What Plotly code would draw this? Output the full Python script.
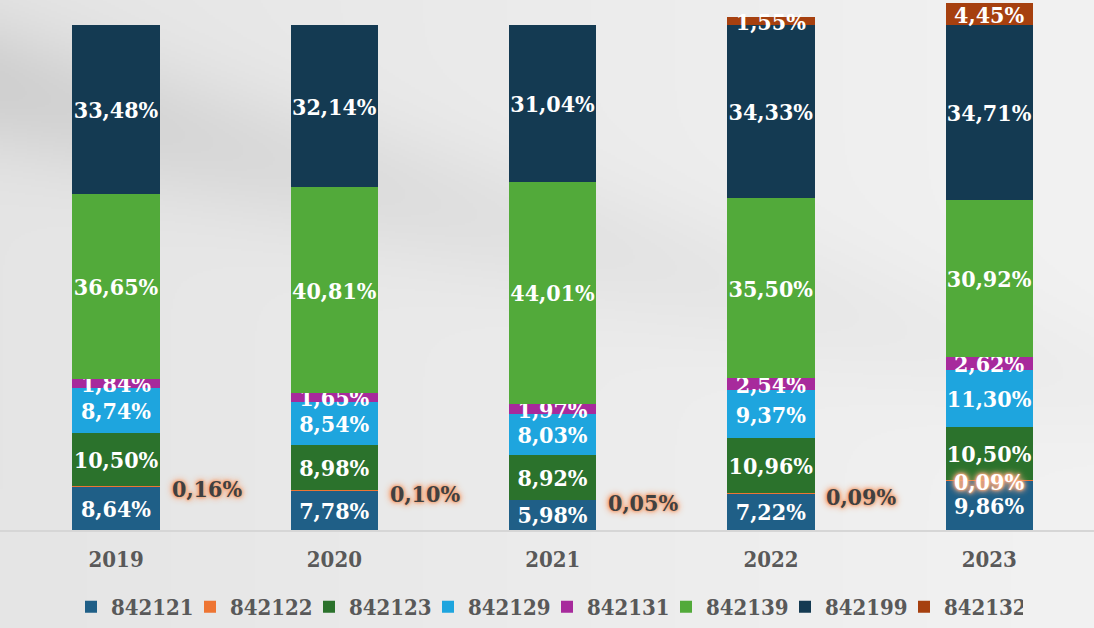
import zlib, struct, base64
import numpy as np
import plotly.graph_objects as go

# ---------------- data ----------------
years = ["2019", "2020", "2021", "2022", "2023"]
s842121 = [8.64, 7.78, 5.98, 7.22, 9.86]
s842122 = [0.16, 0.10, 0.05, 0.09, 0.09]
s842123 = [10.50, 8.98, 8.92, 10.96, 10.50]
s842129 = [8.74, 8.54, 8.03, 9.37, 11.30]
s842131 = [1.84, 1.65, 1.97, 2.54, 2.62]
s842139 = [36.65, 40.81, 44.01, 35.50, 30.92]
s842199 = [33.48, 32.14, 31.04, 34.33, 34.71]
s842132 = [0.0, 0.0, 0.0, 1.55, 4.45]

series_names = ["842121", "842122", "842123", "842129", "842131", "842139", "842199", "842132"]
series_values = [s842121, s842122, s842123, s842129, s842131, s842139, s842199, s842132]
series_colors = ["#1f5f87", "#ee7533", "#2b722c", "#1ea5de", "#a72a9c", "#52aa3a", "#143a52", "#a6400f"]

FONT = "DejaVu Serif Condensed, DejaVu Serif, serif"
GLOW = ("0px 0px 2px #f4a77c, 0px 0px 3px #f4a77c, 0px 0px 4px #f4a77c, "
        "0px 0px 6px #f4a77c, 0px 0px 8px #f7b896")


def fmt(v):
    return f"{v:.2f}".replace(".", ",") + "%"


# ---------------- background image ----------------
def png_data_uri(arr):
    h, w, _ = arr.shape
    raw = b"".join(b"\x00" + arr[r].tobytes() for r in range(h))

    def chunk(t, d):
        c = struct.pack(">I", len(d)) + t + d
        return c + struct.pack(">I", zlib.crc32(t + d) & 0xFFFFFFFF)

    png = (b"\x89PNG\r\n\x1a\n"
           + chunk(b"IHDR", struct.pack(">IIBBBBB", w, h, 8, 2, 0, 0, 0))
           + chunk(b"IDAT", zlib.compress(raw, 9))
           + chunk(b"IEND", b""))
    return "data:image/png;base64," + base64.b64encode(png).decode()


W, H = 547, 314
xx, yy = np.meshgrid(np.arange(W) * 2.0, np.arange(H) * 2.0)
base = 229 + 13 * (xx / 1094.0)
yc = 85 + 0.27 * xx
band = 21 * np.exp(-xx / 700.0) * np.exp(-((yy - yc) ** 2) / (2 * 48 ** 2))
val = np.clip(base - band, 0, 255).astype(np.uint8)
bg = np.stack([val, val, val], axis=-1)
bg_uri = png_data_uri(bg)

# ---------------- figure ----------------
fig = go.Figure()
for name, vals, col in zip(series_names, series_values, series_colors):
    if name == "842122":
        texts = [""] * len(vals)
    else:
        texts = [fmt(v) if v > 0 else "" for v in vals]
    fig.add_trace(go.Bar(
        x=years, y=vals, name=name,
        marker=dict(color=col, line=dict(width=0)),
        width=0.4,
        text=texts,
        textposition="inside",
        insidetextanchor="middle",
        constraintext="none",
        textangle=0,
        textfont=dict(family=FONT, size=23, color="white", weight="bold"),
        hoverinfo="skip",
    ))

# labels for the tiny 842122 series
annotations = []
for i, y in enumerate(years):
    mid = s842121[i] + s842122[i] / 2
    inside = i == len(years) - 1
    annotations.append(dict(
        x=i if inside else i + 0.245, y=mid, xref="x", yref="y",
        text=fmt(s842122[i]), showarrow=False,
        xanchor="center" if inside else "left", yanchor="middle",
        yshift=-1 if inside else -3,
        font=dict(family=FONT, size=23, weight="bold",
                  color="white" if inside else "#404040",
                  shadow=GLOW),
    ))

fig.update_layout(
    width=1094, height=628,
    barmode="stack",
    margin=dict(l=0, r=0, t=0, b=98, autoexpand=False),
    paper_bgcolor="#e9e9e9",
    plot_bgcolor="rgba(0,0,0,0)",
    images=[dict(source=bg_uri, xref="paper", yref="paper", x=0, y=1,
                 sizex=1, sizey=628 / 530, sizing="stretch", layer="below",
                 xanchor="left", yanchor="top")],
    xaxis=dict(
        type="category", range=[-0.532, 4.48],
        showline=True, linecolor="#d6d6d6", linewidth=2,
        showgrid=False, zeroline=False,
        ticks="outside", ticklen=9, tickcolor="rgba(0,0,0,0)",
        tickfont=dict(family=FONT, size=22, color="#595959", weight="bold"),
    ),
    yaxis=dict(visible=False, range=[0, 105], fixedrange=True),
    legend=dict(
        orientation="h", x=0.5, xanchor="center", y=-0.145, yanchor="middle",
        font=dict(family=FONT, size=22, color="#595959", weight="bold"),
        bgcolor="rgba(0,0,0,0)", traceorder="normal",
        entrywidth=74, entrywidthmode="pixels", itemwidth=30,
    ),
    annotations=annotations,
    showlegend=True,
)

fig.write_html(
    "out.html",
    config={"displayModeBar": False},
    post_script="document.body.style.margin='0';document.body.style.padding='0';",
)
